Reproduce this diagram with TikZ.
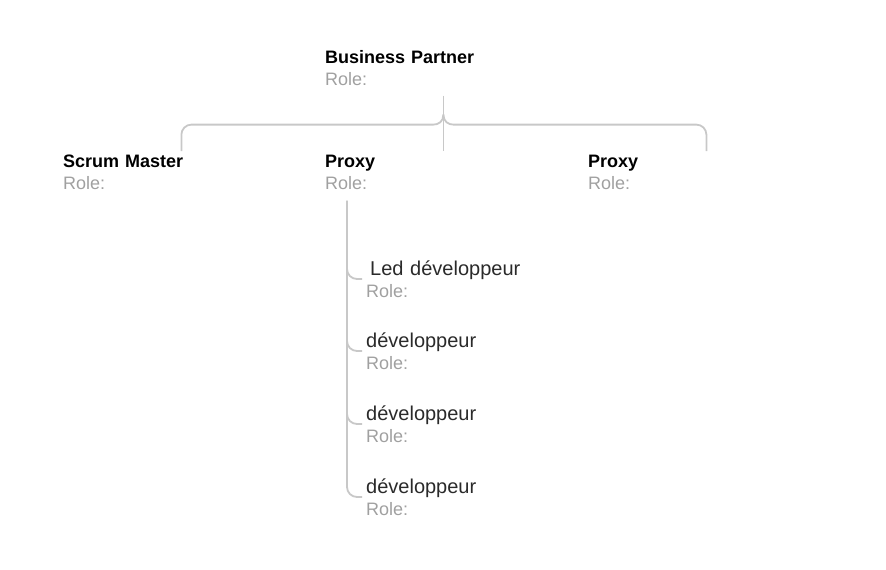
\documentclass[tikz,border=0pt]{standalone}
\usepackage{fontspec}
\setmainfont{Liberation Sans}
\usetikzlibrary{calc}

\definecolor{linkgray}{HTML}{C8C8C8}
\definecolor{rolegray}{HTML}{A0A0A0}
\definecolor{namegray}{HTML}{2A2A2A}

\newcommand{\rolefont}{\mdseries\fontsize{18}{22}\selectfont\color{rolegray}}
\newcommand{\card}[1]{\mbox{#1}\\{\rolefont Role:}}

\tikzset{
    link/.style={draw=linkgray, line width=1.8pt},
    member/.style={anchor=north west, text width=118pt, align=left, inner xsep=0pt, inner ysep=4pt,
        font=\bfseries\fontsize{18}{22}\selectfont},
    dev/.style={anchor=west, text width=160pt, align=left, inner sep=0pt, text=namegray,
        font=\fontsize{20}{22}\selectfont},
}

\begin{document}
\begin{tikzpicture}[x=1pt, y=-1pt]
    \useasboundingbox (0,0) rectangle (886,570);

    \node[member] (bp) at (325,46) {\card{Business Partner}};
    \node[member] (sm) at (63,151) {\card{Scrum Master}};
    \node[member] (p1) at (325,151) {\card{Proxy}};
    \node[member] (p2) at (588,151) {\card{Proxy}};

    \node[dev] (d1) at (366,279) {\card{\hspace*{4pt}Led développeur}};
    \node[dev] (d2) at (366,351) {\card{développeur}};
    \node[dev] (d3) at (366,424) {\card{développeur}};
    \node[dev] (d4) at (366,497) {\card{développeur}};

    % brace below the business partner
    \coordinate (hub) at ($(bp.south east)+(0,25)$);
    \draw[link] ($(bp.south east)+(0,6)$) -- (p1.north east);
    \draw[link] (hub) .. controls +(0,7) and +(5,0) .. ++(-10,10) [rounded corners=10pt] -| (sm.north east);
    \draw[link] (hub) .. controls +(0,7) and +(-5,0) .. ++(10,10) [rounded corners=10pt] -| (p2.north east);

    % team under the first proxy
    \coordinate (trunk) at ($(p1.south west)+(22,7)$);
    \foreach \d in {d1,d2,d3,d4}
        \draw[link, rounded corners=10pt] (trunk) |- ($(\d.west)+(-4,0)$);
\end{tikzpicture}
\end{document}
